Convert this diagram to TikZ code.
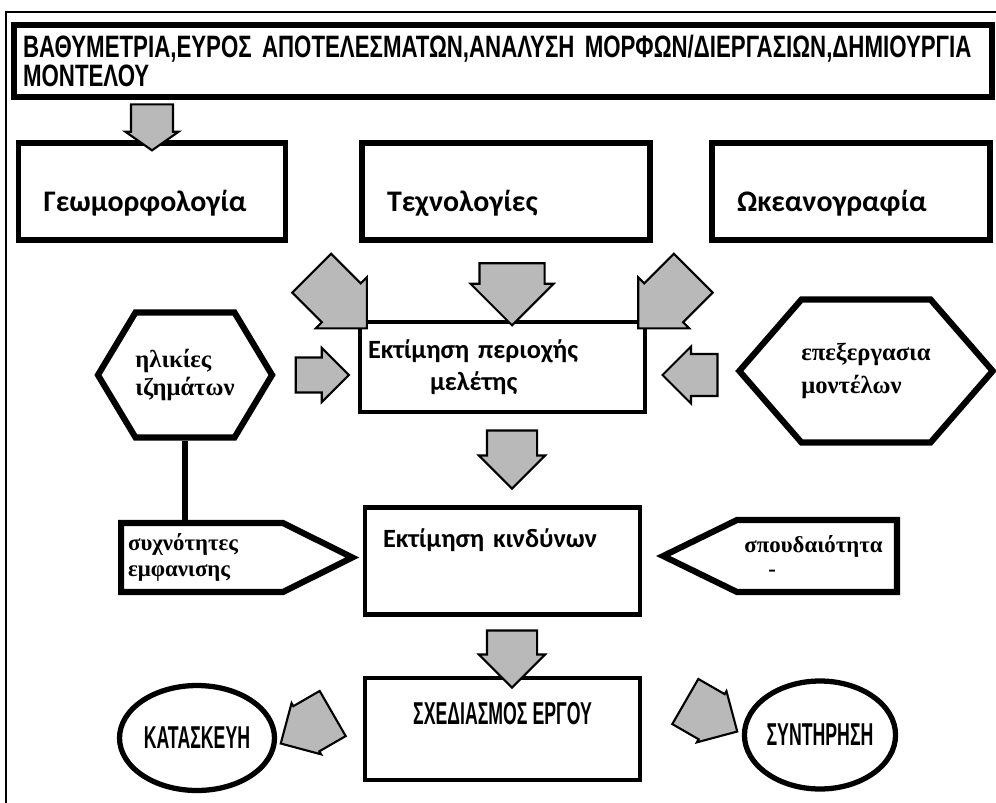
\documentclass[tikz,border=0pt]{standalone}
\usepackage{fontspec}
\setmainfont{Liberation Sans}
\newfontfamily\capsfont{Liberation Sans}[FakeStretch=0.72]
\newfontfamily\narrowfont{Liberation Sans}[FakeStretch=0.56]
\newfontfamily\lowfont{Carlito}
\newfontfamily\serfont{Liberation Serif}
\usetikzlibrary{shapes.geometric,shapes.symbols,shapes.arrows}

\tikzset{
  box/.style={draw=black, rectangle, line width=3pt, inner sep=0pt},
  topic/.style={box, minimum height=1.94cm, text height=0.93cm, text depth=0.11cm,
    inner xsep=0.5cm, align=left, font=\lowfont\bfseries\fontsize{17}{19}\selectfont},
  hexa/.style={draw=black, signal, signal to=west and east, line width=3.5pt, inner sep=0pt,
    align=left, font=\serfont\bfseries\fontsize{14}{16}\selectfont},
  penta/.style={draw=black, signal, line width=3.5pt, inner sep=0pt,
    font=\serfont\bfseries\fontsize{13}{14}\selectfont},
  oval/.style={draw=black, ellipse, line width=3pt, inner sep=0pt,
    font=\narrowfont\bfseries\fontsize{18}{20}\selectfont},
  fat/.style 2 args={single arrow, draw=black, line width=1.2pt, fill=gray!55,
    inner sep=0pt, inner ysep=#1, single arrow head extend=#2}
}

\begin{document}
\begin{tikzpicture}[x=0.02cm, y=-0.02cm]
\useasboundingbox (0,0) rectangle (996,803);
\draw[line width=1.5pt] (6,803) -- (6,12) -- (996,12);

% top row
\node[box, minimum width=19.56cm, minimum height=1.44cm, inner xsep=0.14cm, text width=19.2cm,
  align=left, font=\capsfont\bfseries\fontsize{17.6}{17}\selectfont] (top) at (503,61)
  {ΒΑΘΥΜΕΤΡΙΑ,ΕΥΡΟΣ ΑΠΟΤΕΛΕΣΜΑΤΩΝ,ΑΝΑΛΥΣΗ ΜΟΡΦΩΝ/ΔΙΕΡΓΑΣΙΩΝ,ΔΗΜΙΟΥΡΓΙΑ\\ΜΟΝΤΕΛΟΥ};
\node[topic, minimum width=5.34cm, text width=4.34cm] (geo) at (152,191.5) {Γεωμορφολογία};
\node[topic, minimum width=5.76cm, text width=4.76cm] (tech) at (506,191.5) {Τεχνολογίες};
\node[topic, minimum width=5.56cm, text width=4.56cm] (ocean) at (851,191.5) {Ωκεανογραφία};

% middle column
\node[box, line width=2.4pt, minimum width=5.7cm, minimum height=1.8cm, inner xsep=0.16cm,
  text width=5.38cm, align=left, font=\lowfont\bfseries\fontsize{15}{18}\selectfont] (area) at (502.5,367)
  {Εκτίμηση περιοχής\\\hspace*{1.24cm}μελέτης};
\node[box, line width=2.6pt, minimum width=5.5cm, minimum height=2.14cm, inner xsep=0.36cm,
  text width=4.78cm, text height=0.4cm, text depth=0.96cm, align=left,
  font=\lowfont\bfseries\fontsize{15}{18}\selectfont] (risk) at (502.5,561) {Εκτίμηση κινδύνων};
\node[box, line width=2.8pt, minimum width=5.5cm, minimum height=2.04cm, text height=0.45cm,
  text depth=0.65cm, font=\narrowfont\bfseries\fontsize{18}{20}\selectfont] (design) at (502.5,729)
  {ΣΧΕΔΙΑΣΜΟΣ ΕΡΓΟΥ};

% side shapes
\node[hexa, minimum width=3.3cm, minimum height=2.5cm, signal pointer angle=118] (ages) at (185,375)
  {ηλικίες\\ιζημάτων};
\node[hexa, minimum width=4.94cm, minimum height=2.86cm, signal pointer angle=98,
  font=\serfont\bfseries\fontsize{14}{19}\selectfont] (models) at (866,371)
  {επεξεργασια\\μοντέλων};
\node[penta, signal to=east, anchor=west, minimum height=1.38cm, signal pointer angle=53,
  inner xsep=0.14cm, text width=2.96cm, align=left, font=\serfont\bfseries\fontsize{13}{15}\selectfont]
  (freq) at (118,557.5) {συχνότητες\\εμφανισης};
\node[penta, signal to=west, anchor=east, minimum height=1.44cm, signal pointer angle=52,
  inner xsep=0.15cm, text width=2.9cm, align=left] (weight) at (900,556)
  {σπουδαιότητα\\\hspace*{0.48cm}-};
\node[oval, minimum width=3.1cm, minimum height=2.1cm] (build) at (197,738) {ΚΑΤΑΣΚΕΥΗ};
\node[oval, minimum width=3.0cm, minimum height=2.16cm] (keep) at (820,735) {ΣΥΝΤΗΡΗΣΗ};

\draw[line width=3.5pt] (ages.south) -- (ages.south |- freq.north);

% grey arrows
\node[fat={0.40cm}{0.11cm}, single arrow tip angle=110, minimum height=0.92cm, rotate=-90] (ageo) at (152,120) {};
\node[fat={0.53cm}{0.17cm}, minimum height=1.56cm, rotate=-45] (ageoarea) at (329.5,291) {};
\node[fat={0.63cm}{0.18cm}, minimum height=1.24cm, rotate=-90] (atecharea) at (512,278) {};
\node[fat={0.53cm}{0.17cm}, minimum height=1.56cm, rotate=-135] (aoceanarea) at (675.5,291) {};
\node[fat={0.33cm}{0.19cm}, minimum height=1.06cm] (aagesarea) at (313.5,375) {};
\node[fat={0.40cm}{0.15cm}, minimum height=1.1cm, rotate=180] (amodelsarea) at (700.5,375) {};
\node[fat={0.48cm}{0.16cm}, minimum height=1.16cm, rotate=-90] (aarearisk) at (512,447) {};
\node[fat={0.48cm}{0.16cm}, minimum height=1.14cm, rotate=-90] (ariskdesign) at (512,646.5) {};
\node[fat={0.5cm}{0.07cm}, minimum height=1.2cm, rotate=-150] (abuild) at (318,722) {};
\node[fat={0.5cm}{0.07cm}, minimum height=1.2cm, rotate=-30] (akeep) at (700,710) {};
\end{tikzpicture}
\end{document}
